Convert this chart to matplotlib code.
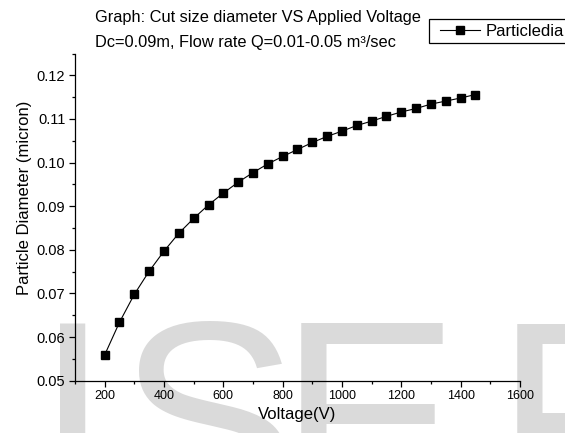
import matplotlib
matplotlib.use("Agg")
import matplotlib.pyplot as plt
from matplotlib.ticker import MultipleLocator, FormatStrFormatter
from matplotlib.patches import Rectangle
from matplotlib import font_manager

plt.rcParams['font.family'] = ['Liberation Sans', 'DejaVu Sans']

# Data
voltage = [200, 250, 300, 350, 400, 450, 500, 550, 600, 650, 700, 750, 800,
           850, 900, 950, 1000, 1050, 1100, 1150, 1200, 1250, 1300, 1350, 1400, 1450]
diameter = [0.0559, 0.0634, 0.0698, 0.0751, 0.0797, 0.0838, 0.0872, 0.0903,
            0.0930, 0.0955, 0.0977, 0.0997, 0.1014, 0.1030, 0.1046, 0.1060,
            0.1072, 0.1085, 0.1095, 0.1106, 0.1116, 0.1124, 0.1134, 0.1141,
            0.1148, 0.1156]
series_label = "Particledia"
x_ticks = [200, 400, 600, 800, 1000, 1200, 1400, 1600]
y_ticks = [0.05, 0.06, 0.07, 0.08, 0.09, 0.10, 0.11, 0.12]
title1 = "Graph: Cut size diameter VS Applied Voltage"
title2 = "Dc=0.09m, Flow rate Q=0.01-0.05 m\u00b3/sec"
xlabel = "Voltage(V)"
ylabel = "Particle Diameter (micron)"
watermark = ["I", "S", "E", "R"]

W, H = 565, 433
fig = plt.figure(figsize=(W / 100, H / 100), dpi=100)
ax = fig.add_axes([75 / W, 1 - 380.7 / H, (520 - 75) / W, (380.7 - 53.5) / H])
ax.patch.set_alpha(0)

# watermark letters (background)
try:
    font_manager.findfont('Liberation Sans Narrow', fallback_to_default=False)
    wm_family, wm_size, wm_base = 'Liberation Sans Narrow', 210, 524
    wm_x = [36, 119, 280, 496]
except Exception:
    wm_family, wm_size, wm_base = 'Liberation Sans', 195, 510
    wm_x = [35, 118, 279, 495]
for ch, xp in zip(watermark, wm_x):
    fig.text(xp / W, 1 - wm_base / H, ch, fontsize=wm_size, color='#dadada',
             family=wm_family, ha='left', va='baseline', zorder=-5)

ax.plot(voltage, diameter, color='black', lw=0.8, marker='s', markersize=5.2,
        markerfacecolor='black', markeredgecolor='black', label=series_label)

ax.set_xlim(100, 1600)
ax.set_ylim(0.05, 0.125)
ax.set_xticks(x_ticks)
ax.set_yticks(y_ticks)
ax.xaxis.set_minor_locator(MultipleLocator(100))
ax.yaxis.set_minor_locator(MultipleLocator(0.005))
ax.yaxis.set_major_formatter(FormatStrFormatter('%.2f'))
for s in ['top', 'right']:
    ax.spines[s].set_visible(False)
for s in ['left', 'bottom']:
    ax.spines[s].set_linewidth(0.9)
ax.tick_params(which='major', direction='out', length=4, width=0.9, labelsize=9, pad=3)
ax.tick_params(which='minor', direction='out', length=2.2, width=0.9)
ax.tick_params(axis='y', labelsize=10.5)

ax.set_xlabel(xlabel, fontsize=12, labelpad=3)
ax.set_ylabel(ylabel, fontsize=12)
ax.yaxis.set_label_coords((32 - 75) / 445, (380.7 - 198) / 327.2)

fig.text(95 / W, 1 - 21.6 / H, title1, fontsize=11.8, ha='left', va='baseline')
fig.text(95 / W, 1 - 47.5 / H, title2, fontsize=11.8, ha='left', va='baseline')

# legend with square frame
fig.add_artist(Rectangle((429 / W, 1 - 43 / H), 150 / W, 24 / H,
                         transform=fig.transFigure, facecolor='white',
                         edgecolor='black', lw=0.9, zorder=4))
leg = fig.legend(loc='center left', bbox_to_anchor=(440 / W, 1 - 31 / H),
                 bbox_transform=fig.transFigure, fontsize=12, frameon=False,
                 handlelength=2.4, handletextpad=0.36, borderpad=0,
                 borderaxespad=0)
leg.set_zorder(5)

fig.savefig("out.png", dpi=100)
